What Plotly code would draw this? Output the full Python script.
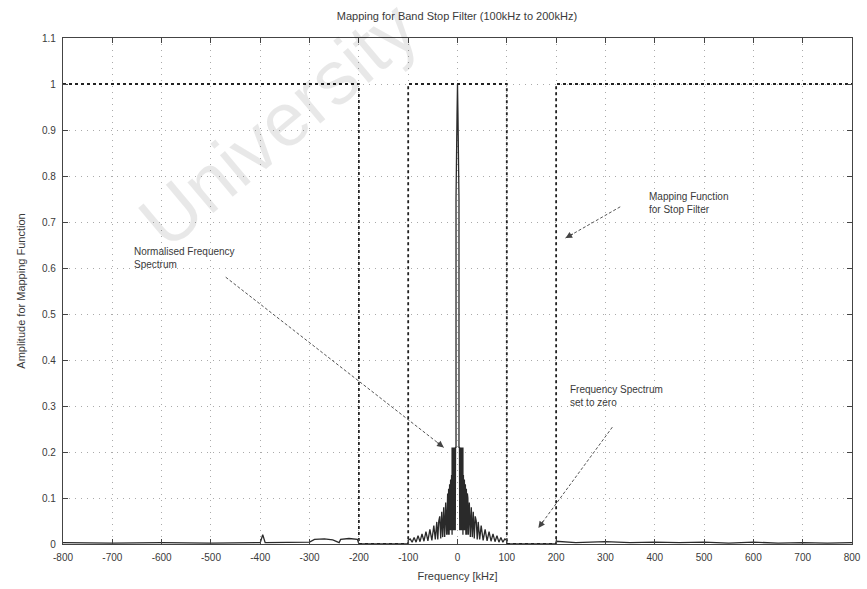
import plotly.graph_objects as go

# ---------------- data ----------------
x_ticks = list(range(-800, 801, 100))
x_tick_labels = [str(v) for v in x_ticks]
y_ticks = [0, 0.1, 0.2, 0.3, 0.4, 0.5, 0.6, 0.7, 0.8, 0.9, 1.0, 1.1]
y_tick_labels = ["0", "0.1", "0.2", "0.3", "0.4", "0.5", "0.6", "0.7", "0.8", "0.9", "1", "1.1"]

# mapping function for band-stop filter (100 kHz to 200 kHz)
map_f = [-800, -200, -200, -100, -100, 100, 100, 200, 200, 800]
map_a = [1, 1, 0, 0, 1, 1, 0, 0, 1, 1]

# normalised spectrum, centre spike
spike_f = [-3, -1, 0, 1, 3]
spike_a = [0.75, 0.93, 1.00, 0.93, 0.75]

# positive-side spectrum (kHz, amplitude)
pos_f = [3, 4, 4.5, 5, 5.5, 6, 6.5, 7, 7.5, 8, 8.5, 9, 9.5, 10, 10.5, 11, 11, 12, 13, 14, 15, 16,
         17, 18, 19, 20, 21, 22, 24, 26, 28, 30, 32, 34, 36, 38, 40, 42, 45, 48, 52, 56, 60,
         64, 68, 72, 76, 80, 84, 88, 92, 96, 100, 100, 200]
pos_a = [0.21, 0.21, 0.03, 0.21, 0.04, 0.21, 0.03, 0.21, 0.04, 0.21, 0.03, 0.21, 0.04, 0.21,
         0.03, 0.21, 0.02, 0.15, 0.03, 0.14, 0.03, 0.13, 0.02, 0.12, 0.02, 0.11, 0.10, 0.02,
         0.09, 0.015, 0.08, 0.015, 0.07, 0.012, 0.06, 0.05, 0.01, 0.048, 0.01, 0.04, 0.008,
         0.032, 0.007, 0.027, 0.006, 0.022, 0.005, 0.018, 0.004, 0.014, 0.004, 0.011, 0.008,
         0.0, 0.0]

# outer residual spectrum (|f| > 200 kHz)
outer_pos_f = [200, 240, 300, 350, 400, 450, 500, 550, 600, 650, 700, 750, 800]
outer_pos_a = [0.006, 0.003, 0.005, 0.003, 0.004, 0.003, 0.004, 0.002, 0.004, 0.002, 0.003, 0.002, 0.003]
outer_neg_f = [-800, -700, -600, -500, -400, -395, -390, -300, -290, -270, -253, -240, -237, -220, -203, -200]
outer_neg_a = [0.003, 0.002, 0.003, 0.002, 0.003, 0.02, 0.003, 0.004, 0.01, 0.011, 0.009, 0.003, 0.01, 0.012, 0.01, 0.0]

# assemble full spectrum polyline
spec_f = outer_neg_f + [-v for v in reversed(pos_f)] + spike_f + pos_f + outer_pos_f
spec_a = outer_neg_a + list(reversed(pos_a)) + spike_a + pos_a + outer_pos_a

# annotation arrows: (tail f, tail a, head f, head a)
arrow_tails_f = [-470, 330, 314]
arrow_tails_a = [0.58, 0.733, 0.254]
arrow_heads_f = [-28, 219, 164]
arrow_heads_a = [0.21, 0.665, 0.035]
labels = ["Normalised Frequency<br>Spectrum", "Mapping Function<br>for Stop Filter",
          "Frequency Spectrum<br>set to zero"]
label_f = [-660, 385, 224]
label_a = [0.622, 0.742, 0.322]

# ---------------- figure ----------------
fig = go.Figure()

fig.add_trace(go.Scatter(x=spec_f, y=spec_a, mode="lines",
                         line=dict(color="#2a2a2a", width=1.3), hoverinfo="skip"))
fig.add_trace(go.Scatter(x=map_f, y=map_a, mode="lines",
                         line=dict(color="#222222", width=1.8, dash="dot"), hoverinfo="skip"))

font_family = "Liberation Sans, Arial, sans-serif"
txt_color = "#3a3a3a"

annotations = [
    dict(text="University", x=0.272, y=0.83, xref="paper", yref="paper", showarrow=False,
         xanchor="center", yanchor="middle", textangle=-40,
         font=dict(size=76, color="rgba(0,0,0,0.09)", family=font_family)),
]
shapes = []
for tf, ta, hf, ha in zip(arrow_tails_f, arrow_tails_a, arrow_heads_f, arrow_heads_a):
    shapes.append(dict(type="line", xref="x", yref="y", x0=tf, y0=ta, x1=hf, y1=ha,
                       line=dict(color="#555555", width=1, dash="3px,2px")))
    # pixel direction of the arrow (approx. 0.4931 px/kHz, 460 px per unit)
    dx = (tf - hf) * 0.4931
    dy = -(ta - ha) * 460
    n = (dx * dx + dy * dy) ** 0.5
    annotations.append(dict(x=hf, y=ha, xref="x", yref="y", ax=10 * dx / n, ay=10 * dy / n,
                            showarrow=True, arrowhead=2, arrowsize=1.1, arrowwidth=1.2,
                            arrowcolor="#444444", text=""))
for t, lf, la in zip(labels, label_f, label_a):
    annotations.append(dict(x=lf, y=la, xref="x", yref="y", xanchor="left", showarrow=False,
                            align="left", text=t,
                            font=dict(size=10, color=txt_color, family=font_family)))

fig.update_layout(
    width=867, height=589,
    margin=dict(l=63, r=15, t=38, b=45, autoexpand=False),
    paper_bgcolor="white", plot_bgcolor="white",
    showlegend=False,
    font=dict(family=font_family, size=11, color=txt_color),
    title=dict(text="Mapping for Band Stop Filter (100kHz to 200kHz)", x=0.527, xanchor="center",
               y=0.972, yanchor="middle", font=dict(size=11, color=txt_color)),
    annotations=annotations,
    shapes=shapes,
)

fig.update_xaxes(range=[-800, 800], tickmode="array", tickvals=x_ticks, ticktext=x_tick_labels,
                 ticks="inside", ticklen=5, tickcolor="#444444", showline=True, linecolor="#444444",
                 linewidth=1.2, mirror="ticks", showgrid=True, gridcolor="#aaaaaa", griddash="1px,5px",
                 gridwidth=1, zeroline=False, ticklabelstandoff=4,
                 title=dict(text="Frequency [kHz]", standoff=10, font=dict(size=11, color=txt_color)),
                 tickfont=dict(size=10, color=txt_color))
fig.update_yaxes(range=[0, 1.1], tickmode="array", tickvals=y_ticks, ticktext=y_tick_labels,
                 ticks="inside", ticklen=5, tickcolor="#444444", showline=True, linecolor="#444444",
                 linewidth=1.2, mirror="ticks", showgrid=True, gridcolor="#aaaaaa", griddash="1px,5px",
                 gridwidth=1, zeroline=False, ticklabelstandoff=4,
                 title=dict(text="Amplitude for Mapping Function", standoff=14,
                            font=dict(size=11, color=txt_color)),
                 tickfont=dict(size=10, color=txt_color))

fig.write_html("out.html")
